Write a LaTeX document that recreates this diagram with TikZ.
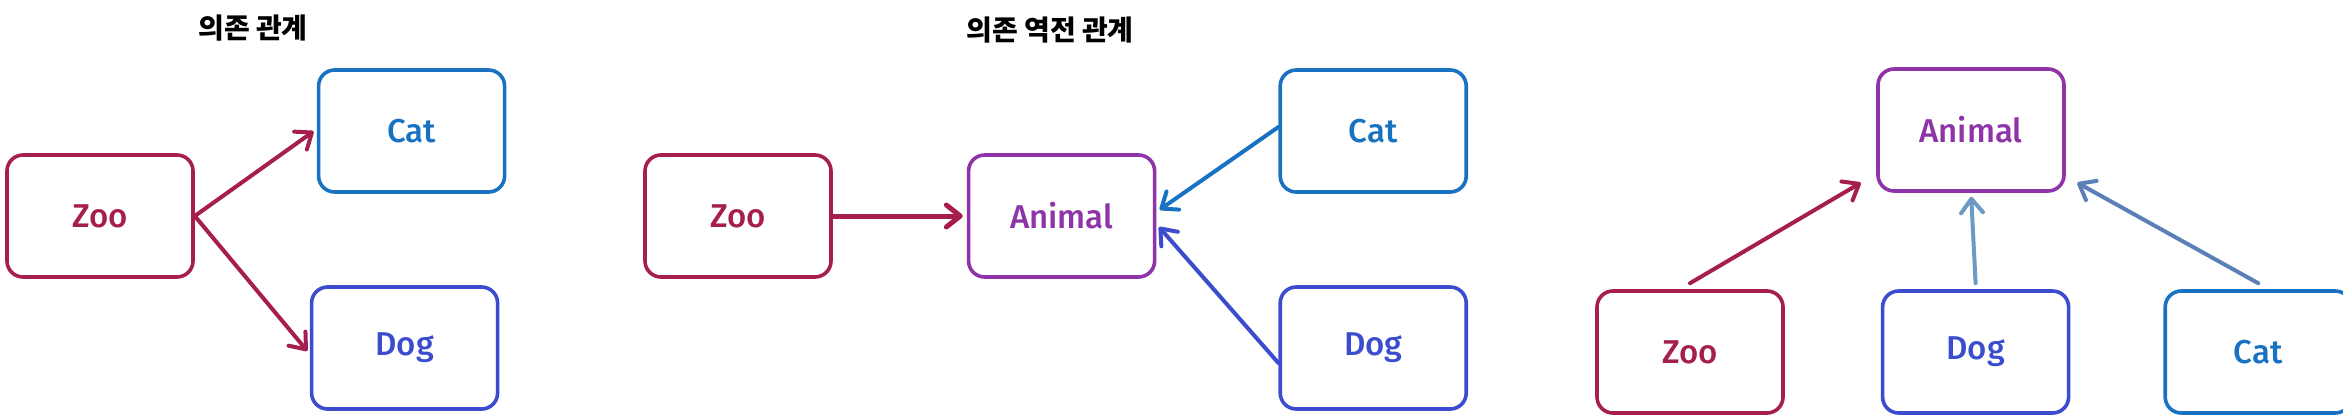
\documentclass[tikz,border=0pt]{standalone}
\usepackage{fontspec}
\setmainfont{Fira Sans}[UprightFont=* Medium]
\newfontfamily\krfont{Noto Sans CJK KR}
\usetikzlibrary{arrows.meta,positioning}
\definecolor{zoored}{HTML}{A61E4D}
\definecolor{catblue}{HTML}{1971C2}
\definecolor{dogblue}{HTML}{3B4CCF}
\definecolor{animalpurple}{HTML}{8E34A8}
\definecolor{doglight}{HTML}{6B9AC4}
\definecolor{catlight}{HTML}{5B80B8}

\begin{document}
\begin{tikzpicture}[
    x=0.5pt, y=-0.5pt,
    every node/.style={font=\fontsize{16.5}{19}\selectfont},
    classbox/.style={draw, line width=1.8pt, rounded corners=8pt, minimum width=93pt, minimum height=61pt, align=center, fill=white},
    arrstyle/.style={-{Straight Barb[length=7pt, width=11pt, round]}, line width=2pt, line cap=round, shorten >=2pt},
    titlebox/.style={font=\krfont\bfseries\fontsize{14}{16}\selectfont, align=center}
]
\useasboundingbox (0,0) rectangle (2343,418);

% Panel 1: dependency
\node[titlebox] (t1) at (253,28) {의존 관계};
\node[classbox, draw=zoored, text=zoored] (zoo1) at (100,216) {Zoo};
\node[classbox, draw=catblue, text=catblue, right=61pt of zoo1, yshift=42.5pt] (cat1) {Cat};
\node[classbox, draw=dogblue, text=dogblue, right=57.5pt of zoo1, yshift=-66pt] (dog1) {Dog};
\draw[arrstyle, zoored] (zoo1.east) -- ([yshift=1pt]cat1.west);
\draw[arrstyle, zoored] (zoo1.east) -- ([yshift=-3pt]dog1.west);

% Panel 2: dependency inversion
\node[titlebox] (t2) at (1050,30) {의존 역전 관계};
\node[classbox, draw=zoored, text=zoored] (zoo2) at (738,216) {Zoo};
\node[classbox, draw=animalpurple, text=animalpurple, right=67pt of zoo2] (animal2) {Animal};
\node[classbox, draw=catblue, text=catblue, right=61pt of animal2, yshift=42.5pt] (cat2) {Cat};
\node[classbox, draw=dogblue, text=dogblue, right=61pt of animal2, yshift=-66pt] (dog2) {Dog};
\draw[arrstyle, zoored, line width=2.5pt] (zoo2.east) -- (animal2.west);
\draw[arrstyle, catblue] ([yshift=2pt]cat2.west) -- ([yshift=2pt]animal2.east);
\draw[arrstyle, dogblue] ([yshift=-7.5pt]dog2.west) -- ([yshift=-4pt]animal2.east);

% Panel 3: hierarchy
\node[classbox, draw=animalpurple, text=animalpurple] (animal3) at (1971,130) {Animal};
\node[classbox, draw=zoored, text=zoored] (zoo3) at (1690,352) {Zoo};
\node[classbox, draw=dogblue, text=dogblue, right=48pt of zoo3] (dog3) {Dog};
\node[classbox, draw=catblue, text=catblue, right=46.5pt of dog3] (cat3) {Cat};
\draw[arrstyle, zoored] ([yshift=3pt]zoo3.north) -- ([xshift=-6pt,yshift=6pt]animal3.south west);
\draw[arrstyle, doglight] ([yshift=3pt]dog3.north) -- (animal3.south);
\draw[arrstyle, catlight] ([yshift=3pt]cat3.north) -- ([xshift=4pt,yshift=6pt]animal3.south east);
\end{tikzpicture}
\end{document}
